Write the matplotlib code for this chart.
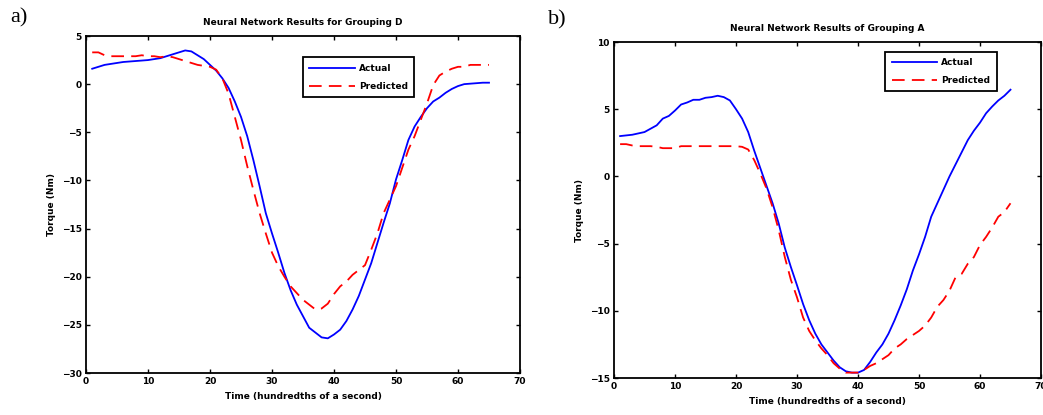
import numpy as np
import matplotlib
matplotlib.use("Agg")
import matplotlib.pyplot as plt

# time axis (hundredths of a second)
time = np.arange(1, 66)

# grouping D (panel a)
actual_d = [1.6, 1.8, 2.0, 2.1, 2.2, 2.3, 2.35, 2.4, 2.45, 2.5,
            2.6, 2.7, 2.9, 3.1, 3.3, 3.5, 3.4, 3.0, 2.6, 2.0,
            1.4, 0.6, -0.4, -1.8, -3.4, -5.4, -7.9, -10.6, -13.4, -15.5,
            -17.5, -19.6, -21.4, -22.9, -24.1, -25.3, -25.8, -26.3, -26.4, -26.0,
            -25.5, -24.6, -23.4, -22.0, -20.3, -18.6, -16.5, -14.4, -12.4, -9.9,
            -7.9, -5.8, -4.4, -3.4, -2.5, -1.8, -1.4, -0.9, -0.5, -0.2,
            0.0, 0.05, 0.1, 0.15, 0.15]
predicted_d = [3.3, 3.3, 3.0, 2.9, 2.9, 2.9, 2.9, 2.9, 3.0, 2.9,
               2.9, 2.8, 2.9, 2.8, 2.6, 2.4, 2.2, 2.0, 1.9, 1.8,
               1.5, 0.6, -1.0, -3.4, -5.8, -8.5, -11.0, -13.4, -15.5, -17.5,
               -18.9, -20.0, -21.0, -21.7, -22.4, -22.9, -23.4, -23.3, -22.8, -21.8,
               -21.0, -20.5, -19.8, -19.3, -18.8, -17.2, -15.5, -13.4, -12.0, -10.6,
               -8.7, -6.8, -5.4, -3.7, -2.0, -0.1, 0.9, 1.3, 1.6, 1.8,
               1.8, 2.0, 2.0, 2.0, 2.0]

# grouping A (panel b)
actual_a = [3.0, 3.05, 3.1, 3.2, 3.3, 3.55, 3.8, 4.3, 4.5, 4.9,
            5.35, 5.5, 5.7, 5.7, 5.85, 5.9, 6.0, 5.9, 5.65, 5.0,
            4.3, 3.3, 1.9, 0.6, -0.7, -2.0, -3.5, -5.3, -6.75, -8.1,
            -9.5, -10.7, -11.7, -12.5, -13.1, -13.7, -14.2, -14.5, -14.6, -14.6,
            -14.4, -13.8, -13.1, -12.5, -11.7, -10.7, -9.6, -8.4, -7.0, -5.8,
            -4.5, -3.0, -2.0, -1.0, 0.0, 0.9, 1.8, 2.7, 3.4, 4.0,
            4.7, 5.2, 5.65, 6.0, 6.45]
predicted_a = [2.4, 2.4, 2.3, 2.25, 2.25, 2.25, 2.2, 2.1, 2.1, 2.1,
               2.25, 2.25, 2.25, 2.25, 2.25, 2.25, 2.25, 2.25, 2.25, 2.25,
               2.2, 2.0, 1.2, 0.2, -0.9, -2.3, -4.0, -6.0, -7.7, -9.0,
               -10.5, -11.5, -12.2, -12.8, -13.3, -13.9, -14.3, -14.6, -14.6, -14.6,
               -14.4, -14.1, -13.9, -13.6, -13.3, -12.8, -12.5, -12.1, -11.8, -11.5,
               -11.1, -10.5, -9.7, -9.2, -8.5, -7.5, -7.25, -6.5, -6.0, -5.1,
               -4.5, -3.8, -3.0, -2.65, -2.0]

titles = ['Neural Network Results for Grouping D', 'Neural Network Results of Grouping A']
panel_labels = ['a)', 'b)']
ylims = [(-30, 5), (-15, 10)]
yticks = [np.arange(-30, 6, 5), np.arange(-15, 11, 5)]


def draw_panel(ax, actual, predicted, title, ylim, yt, legend_pos):
    ax.plot(time, actual, color='blue', lw=1.3, label='Actual')
    ax.plot(time, predicted, color='red', lw=1.3, linestyle=(0, (7, 4)), label='Predicted')
    ax.set_xlim(0, 70)
    ax.set_ylim(*ylim)
    ax.set_xticks(np.arange(0, 71, 10))
    ax.set_yticks(yt)
    ax.tick_params(direction='in', top=True, right=True, length=3, width=1,
                   labelsize=6.5, pad=3)
    for lab in ax.get_xticklabels() + ax.get_yticklabels():
        lab.set_fontweight('bold')
    for s in ax.spines.values():
        s.set_linewidth(1.3)
    ax.set_title(title, fontsize=6.5, pad=8, fontweight='bold')
    ax.set_xlabel('Time (hundredths of a second)', fontsize=6.5, labelpad=4, fontweight='bold')
    ax.set_ylabel('Torque (Nm)', fontsize=6.5, labelpad=4, fontweight='bold')
    leg = ax.legend(loc='upper left', bbox_to_anchor=legend_pos,
                    prop={'size': 6.5, 'weight': 'bold'},
                    fancybox=False, edgecolor='black', framealpha=1,
                    handlelength=5, borderpad=0.7, labelspacing=1.0, handletextpad=0.5)
    leg.get_frame().set_linewidth(1.3)


fig = plt.figure(figsize=(10.43, 4.15), dpi=100)
ax1 = fig.add_axes([86 / 1043, 42 / 415, 434 / 1043, 337 / 415])
ax2 = fig.add_axes([614 / 1043, 37 / 415, 427 / 1043, 336 / 415])

draw_panel(ax1, actual_d, predicted_d, titles[0], ylims[0], yticks[0], (0.49, 0.95))
draw_panel(ax2, actual_a, predicted_a, titles[1], ylims[1], yticks[1], (0.625, 0.985))

fig.text(10 / 1043, 1 - 8 / 415, panel_labels[0], fontsize=16, family='Liberation Serif', va='top')
fig.text(548 / 1043, 1 - 10 / 415, panel_labels[1], fontsize=16, family='Liberation Serif', va='top')

fig.savefig('out.png', dpi=100)
